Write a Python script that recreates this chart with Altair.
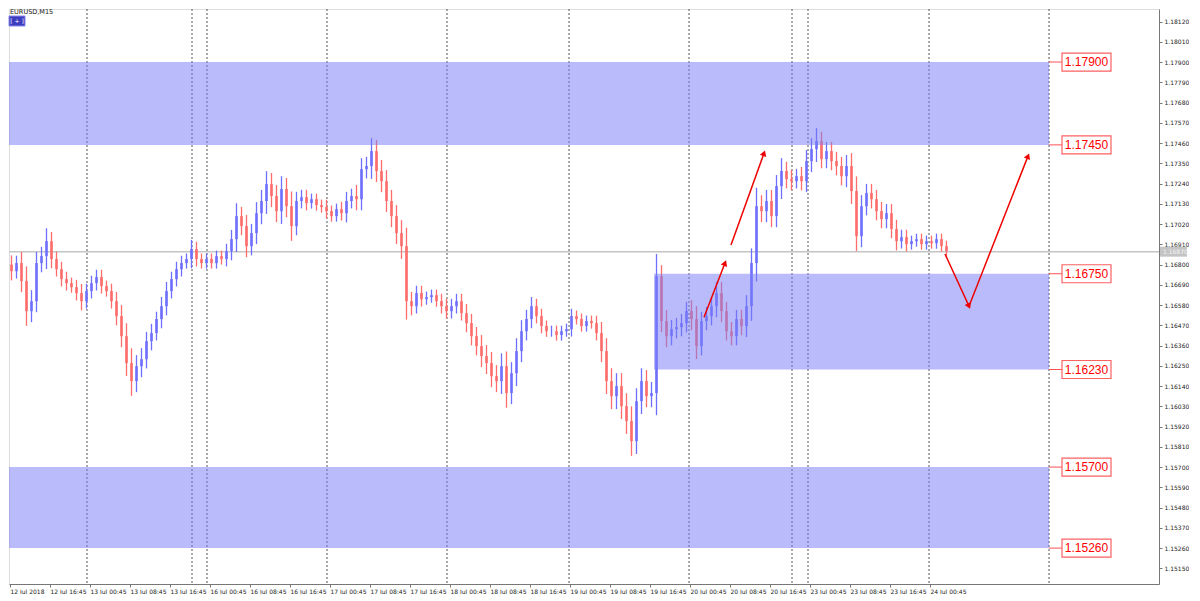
import json
import math
import pandas as pd
import altair as alt

# ---------------- data ----------------
# hourly closes (EURUSD)
closes = [
    1.16764, 1.16808, 1.16710, 1.16547, 1.16601, 1.16808, 1.16846, 1.16927, 1.16830, 1.16775,
    1.16721, 1.16699, 1.16677, 1.16645, 1.16601, 1.16656, 1.16699, 1.16732, 1.16683, 1.16656,
    1.16601, 1.16520, 1.16411, 1.16265, 1.16167, 1.16248, 1.16286, 1.16384, 1.16428, 1.16504,
    1.16574, 1.16656, 1.16721, 1.16775, 1.16808, 1.16830, 1.16884, 1.16830, 1.16808, 1.16830,
    1.16808, 1.16846, 1.16830, 1.16873, 1.16938, 1.17063, 1.17009, 1.16900, 1.16971, 1.17079,
    1.17145, 1.17237, 1.17172, 1.17090, 1.17210, 1.17117, 1.17009, 1.17145, 1.17166, 1.17134,
    1.17155, 1.17123, 1.17112, 1.17090, 1.17063, 1.17101, 1.17079, 1.17145, 1.17172, 1.17155,
    1.17318, 1.17335, 1.17416, 1.17308, 1.17253, 1.17145, 1.17063, 1.16971, 1.16900, 1.16601,
    1.16574, 1.16645, 1.16612, 1.16623, 1.16634, 1.16601, 1.16574, 1.16547, 1.16574, 1.16601,
    1.16536, 1.16482, 1.16411, 1.16357, 1.16303, 1.16265, 1.16194, 1.16167, 1.16248, 1.16102,
    1.16210, 1.16330, 1.16438, 1.16504, 1.16574, 1.16520, 1.16466, 1.16438, 1.16438, 1.16417,
    1.16438, 1.16449, 1.16520, 1.16504, 1.16466, 1.16493, 1.16482, 1.16428, 1.16330, 1.16167,
    1.16085, 1.16140, 1.16031, 1.15950, 1.15841, 1.16058, 1.16167, 1.16085, 1.16102, 1.16737,
    1.16493, 1.16411, 1.16449, 1.16460, 1.16482, 1.16547, 1.16504, 1.16357, 1.16493, 1.16520,
    1.16574, 1.16645, 1.16547, 1.16438, 1.16411, 1.16504, 1.16466, 1.16574, 1.16808, 1.17117,
    1.17090, 1.17145, 1.17063, 1.17226, 1.17308, 1.17264, 1.17253, 1.17280, 1.17253, 1.17362,
    1.17427, 1.17471, 1.17373, 1.17416, 1.17362, 1.17335, 1.17280, 1.17335, 1.17199, 1.16954,
    1.17117, 1.17188, 1.17155, 1.17090, 1.17047, 1.17079, 1.16993, 1.16927, 1.16949, 1.16911,
    1.16927, 1.16938, 1.16911, 1.16927, 1.16916, 1.16938, 1.16900, 1.16873,
]
first_open = 1.16800
# extra wick length beyond the body of each hourly bar, in pips
wick_pips = [
    5, 4, 6, 8, 6, 6, 5, 7, 5, 4,
    4, 4, 3, 4, 5, 4, 4, 4, 4, 3,
    4, 5, 6, 7, 8, 6, 6, 5, 5, 4,
    5, 5, 4, 4, 4, 3, 5, 4, 3, 3,
    3, 3, 3, 4, 5, 7, 5, 6, 5, 6,
    6, 7, 6, 6, 7, 6, 8, 5, 4, 4,
    3, 3, 3, 4, 3, 3, 4, 5, 4, 6,
    6, 5, 7, 6, 6, 6, 6, 6, 7, 10,
    5, 4, 4, 3, 3, 3, 4, 4, 4, 4,
    4, 5, 5, 5, 6, 6, 6, 6, 7, 8,
    6, 7, 6, 5, 5, 4, 4, 3, 3, 3,
    3, 3, 4, 3, 3, 3, 3, 4, 6, 7,
    7, 7, 7, 7, 8, 7, 7, 6, 6, 12,
    6, 6, 5, 5, 5, 5, 6, 7, 5, 5,
    5, 6, 6, 5, 5, 5, 5, 6, 8, 10,
    6, 6, 6, 6, 7, 5, 5, 4, 5, 6,
    6, 7, 5, 5, 5, 5, 5, 6, 7, 8,
    6, 5, 5, 5, 5, 5, 5, 5, 4, 4,
    3, 3, 3, 3, 3, 3, 3, 3,
]

zone_lo = [1.17450, 1.16230, 1.15260]
zone_hi = [1.17900, 1.16750, 1.15700]
zone_start = [0.0, 129.0, 0.0]
zone_end = [208.0, 208.0, 208.0]

levels = [1.17900, 1.17450, 1.16750, 1.16230, 1.15700, 1.15260]
separators = [15.6, 36.6, 39.6, 63.6, 87.6, 112.0, 136.0, 156.6, 159.8, 184.0, 208.0]
current_price = 1.16870

# hand-drawn arrows (hour index, price)
arrow_paths = [
    [(139.0, 1.16514), (143.2, 1.16808)],
    [(144.4, 1.16906), (151.0, 1.17405)],
    [(187.2, 1.16857), (192.0, 1.16574), (203.8, 1.17389)],
]

tick_labels = [
    "12 Jul 2018", "12 Jul 16:45", "13 Jul 00:45", "13 Jul 08:45", "13 Jul 16:45",
    "16 Jul 00:45", "16 Jul 08:45", "16 Jul 16:45", "17 Jul 00:45", "17 Jul 08:45",
    "17 Jul 16:45", "18 Jul 00:45", "18 Jul 08:45", "18 Jul 16:45", "19 Jul 00:45",
    "19 Jul 08:45", "19 Jul 16:45", "20 Jul 00:45", "20 Jul 08:45", "20 Jul 16:45",
    "23 Jul 00:45", "23 Jul 08:45", "23 Jul 16:45", "24 Jul 00:45",
]
y_ticks = [round(1.15150 + 0.0011 * i, 5) for i in range(28)]

# ---------------- layout ----------------
W, H = 1150, 575
XD = [0, 230]
YD = [1.15065, 1.18188]
px_h = W / (XD[1] - XD[0])
px_p = H / (YD[1] - YD[0])

BLUE = "#6f6fff"
RED = "#ff6c6c"
ZONE = "#787df5"
FONT = "DejaVu Sans"

xs = alt.Scale(domain=XD, nice=False, zero=False)
ys = alt.Scale(domain=YD, nice=False, zero=False)
tick_pos = [0.2 + 8 * i for i in range(len(tick_labels))]
label_expr = f"{json.dumps(tick_labels)}[round((datum.value - 0.2) / 8)]"
xaxis = alt.Axis(values=tick_pos, labelExpr=label_expr, labelAlign="left", labelFontSize=6,
                 labelFont=FONT, labelColor="#222", tickSize=3, grid=False, title=None,
                 labelPadding=1, labelOverlap=False, labelFlush=False,
                 domainColor="#777", tickColor="#777")
yaxis = alt.Axis(orient="right", values=y_ticks, format=".5f", labelFontSize=6, labelFont=FONT,
                 labelColor="#222", tickSize=3, grid=False, title=None, labelPadding=2,
                 domainColor="#777", tickColor="#777", labelOverlap=False)


def X(f, **kw):
    return alt.X(f, type="quantitative", scale=xs, axis=xaxis, **kw)


def Y(f, **kw):
    return alt.Y(f, type="quantitative", scale=ys, axis=yaxis, **kw)


# bars: open = previous close, wick extends beyond body
opens = [first_open] + closes[:-1]
bars = pd.DataFrame({
    "h": [i + 0.5 for i in range(len(closes))],
    "open": opens,
    "close": closes,
    "hi": [max(o, c) + w * 0.0001 for o, c, w in zip(opens, closes, wick_pips)],
    "lo": [min(o, c) - w * 0.0001 for o, c, w in zip(opens, closes, wick_pips)],
    "dir": ["up" if c >= o else "down" for o, c in zip(opens, closes)],
})

zones = pd.DataFrame({"x1": zone_start, "x2": zone_end, "lo": zone_lo, "hi": zone_hi})
seps = pd.DataFrame({"h": separators})
cur = pd.DataFrame({"p": [current_price]})

box_dp = 9 / px_p
lv = pd.DataFrame({
    "p": levels,
    "c1": [208.0] * len(levels),
    "c2": [210.6] * len(levels),
    "b1": [210.6] * len(levels),
    "b2": [220.4] * len(levels),
    "tx": [215.5] * len(levels),
    "top": [v + box_dp for v in levels],
    "bot": [v - box_dp for v in levels],
    "label": [f"{v:.5f}" for v in levels],
})

seg_rows, head_rows = [], []
for k, path in enumerate(arrow_paths):
    for j, (h, p) in enumerate(path):
        seg_rows.append({"g": k, "o": j, "h": h, "p": p})
    for j in range(1, len(path)):
        (h0, p0), (h1, p1) = path[j - 1], path[j]
        ang = math.degrees(math.atan2((h1 - h0) * px_h, (p1 - p0) * px_p)) % 360
        head_rows.append({"h": h1, "p": p1, "ang": ang})
segs = pd.DataFrame(seg_rows)
heads = pd.DataFrame(head_rows)

color_enc = alt.Color("dir:N", scale=alt.Scale(domain=["up", "down"], range=[BLUE, RED]), legend=None)

# ---------------- layers ----------------
sep_layer = alt.Chart(seps).mark_rule(color="#555", strokeDash=[2, 2], strokeWidth=1).encode(x=X("h"))
cur_layer = alt.Chart(cur).mark_rule(color="#c4c4c4", strokeWidth=1.5).encode(y=Y("p"))
wick_layer = alt.Chart(bars).mark_rule(strokeWidth=1.3).encode(
    x=X("h"), y=Y("lo"), y2="hi", color=color_enc)
body_layer = alt.Chart(bars).mark_rule(strokeWidth=2.6).encode(
    x=X("h"), y=Y("open"), y2="close", color=color_enc)
zone_layer = alt.Chart(zones).mark_rect(color=ZONE, opacity=0.52).encode(
    x=X("x1"), x2="x2", y=Y("lo"), y2="hi")
conn_layer = alt.Chart(lv).mark_rule(color="#ff5050", strokeWidth=1).encode(x=X("c1"), x2="c2", y=Y("p"))
box_layer = alt.Chart(lv).mark_rect(fill="white", stroke="#ff6060", strokeWidth=1.2).encode(
    x=X("b1"), x2="b2", y=Y("top"), y2="bot")
lvtext_layer = alt.Chart(lv).mark_text(color="#ff0000", fontSize=12, font="Liberation Sans").encode(
    x=X("tx"), y=Y("p"), text="label:N")
arrow_layer = alt.Chart(segs).mark_line(color="#ee0000", strokeWidth=1.5).encode(
    x=X("h"), y=Y("p"), detail="g:N", order="o:Q")
head_layer = alt.Chart(heads).mark_point(shape="triangle-up", filled=True, color="#ee0000",
                                         size=45, opacity=1).encode(
    x=X("h"), y=Y("p"), angle=alt.Angle("ang:Q", scale=None))

# current price tag on the axis
cur_tag = alt.Chart(pd.DataFrame({"top": [current_price + 5 / px_p],
                                  "bot": [current_price - 5 / px_p]})).mark_rect(
    color="#c4c4c4").encode(x=alt.value(W + 1), x2=alt.value(W + 28), y=Y("top"), y2="bot")
cur_text = alt.Chart(cur).mark_text(align="left", fontSize=6, font=FONT, color="#f4f4f4").encode(
    x=alt.value(W + 4), y=Y("p"), text=alt.value(f"{current_price:.5f}"))

# top-left caption and button
title_layer = alt.Chart(pd.DataFrame({"t": ["EURUSD,M15"]})).mark_text(
    align="left", baseline="top", fontSize=6.5, font=FONT, color="#111").encode(
    x=alt.value(1), y=alt.value(0), text="t:N")
btn_layer = alt.Chart(pd.DataFrame({"t": ["[ + ]"]})).mark_rect(
    fill="#3d3dbf", stroke="#8888ee", strokeWidth=1).encode(
    x=alt.value(0), x2=alt.value(16), y=alt.value(7), y2=alt.value(17))
btn_text = alt.Chart(pd.DataFrame({"t": ["[ + ]"]})).mark_text(
    fontSize=6, font=FONT, color="white").encode(x=alt.value(8), y=alt.value(12), text="t:N")

chart = alt.layer(
    sep_layer, cur_layer, wick_layer, body_layer, zone_layer, conn_layer, box_layer, lvtext_layer,
    arrow_layer, head_layer, cur_tag, cur_text, title_layer, btn_layer, btn_text,
).properties(width=W, height=H).configure_view(stroke="#777", strokeWidth=1).configure(
    background="white", padding=0)

chart.save("out.html", embed_options={"renderer": "svg", "actions": False})
